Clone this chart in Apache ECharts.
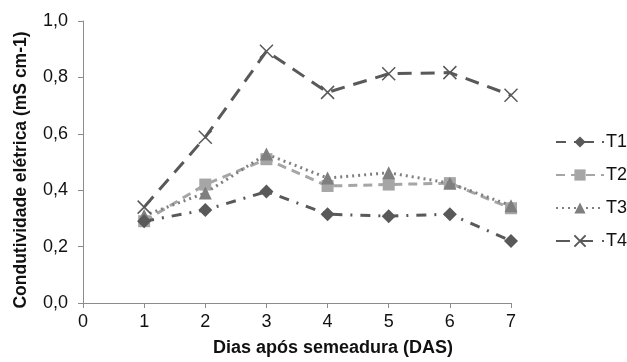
<!DOCTYPE html>
<html>
<head>
<meta charset="UTF-8" />
<script src="https://cdn.jsdelivr.net/npm/echarts@6/dist/echarts.min.js"></script>
<style type="text/css">
    *{
        margin: 0;
        padding: 0;
    }
    #chart{
        width: 627px;
        height: 362px;
        background: #fff;
    }
</style>
</head>
<body>
<div id="chart"></div>
<script type="text/javascript">
    // dias apos semeadura
    var dias = [1, 2, 3, 4, 5, 6, 7];
    var t1 = [0.29, 0.33, 0.395, 0.315, 0.308, 0.315, 0.22];
    var t2 = [0.29, 0.42, 0.51, 0.415, 0.42, 0.425, 0.336];
    var t3 = [0.31, 0.39, 0.528, 0.443, 0.462, 0.425, 0.345];
    var t4 = [0.34, 0.588, 0.893, 0.747, 0.813, 0.817, 0.737];
    var nomes = ['T1', 'T2', 'T3', 'T4'];

    function pares(vals) {
        var out = [];
        for (var i = 0; i < dias.length; i++) {
            out.push([dias[i], vals[i]]);
        }
        return out;
    }

    var xis = 'path://M0,0L10,10M10,0L0,10';
    var fonte = 'Liberation Sans, Arial, sans-serif';

    var myChart = echarts.init(document.getElementById('chart'));
    var option = {
        animation: false,
        textStyle: { fontFamily: fonte },
        grid: { left: 83, right: 116, top: 21, bottom: 52 },
        legend: {
            orient: 'vertical',
            left: 550,
            top: 128,
            itemWidth: 48,
            itemHeight: 14,
            itemGap: 15,
            textStyle: { fontSize: 18, lineHeight: 18, color: '#111', padding: [0, 0, 0, -3] },
            data: nomes
        },
        xAxis: {
            type: 'value',
            min: 0,
            max: 7,
            interval: 1,
            name: 'Dias após semeadura (DAS)',
            nameLocation: 'middle',
            nameGap: 36,
            nameTextStyle: { fontSize: 18, fontWeight: 'bold', color: '#111', padding: [0, 0, 0, 72] },
            axisLine: { lineStyle: { color: '#8c8c8c' } },
            axisTick: { show: true, length: 5, lineStyle: { color: '#8c8c8c' } },
            axisLabel: { fontSize: 18, color: '#111', margin: 10 },
            splitLine: { show: false }
        },
        yAxis: {
            type: 'value',
            min: 0,
            max: 1,
            interval: 0.2,
            name: 'Condutividade elétrica (mS cm-1)',
            nameLocation: 'middle',
            nameGap: 53,
            nameTextStyle: { fontSize: 17.5, fontWeight: 'bold', color: '#111', padding: [0, 16, 0, 0] },
            axisLine: { show: true, lineStyle: { color: '#8c8c8c' } },
            axisTick: { show: true, length: 5, lineStyle: { color: '#8c8c8c' } },
            axisLabel: {
                fontSize: 18,
                color: '#111',
                margin: 15,
                formatter: function (v) { return v.toFixed(1).replace('.', ','); }
            },
            splitLine: { show: false }
        },
        series: [
            {
                name: 'T1',
                type: 'line',
                data: pares(t1),
                symbol: 'diamond',
                symbolSize: 14,
                itemStyle: { color: '#595959' },
                lineStyle: { color: '#595959', width: 3, type: [10, 8, 2, 8] },
                z: 4
            },
            {
                name: 'T2',
                type: 'line',
                data: pares(t2),
                symbol: 'rect',
                symbolSize: 12,
                itemStyle: { color: '#a6a6a6' },
                lineStyle: { color: '#a6a6a6', width: 3, type: [9, 6] },
                z: 2
            },
            {
                name: 'T3',
                type: 'line',
                data: pares(t3),
                symbol: 'triangle',
                symbolSize: 13,
                itemStyle: { color: '#7f7f7f' },
                lineStyle: { color: '#7f7f7f', width: 3, type: [2, 4] },
                z: 3
            },
            {
                name: 'T4',
                type: 'line',
                data: pares(t4),
                symbol: xis,
                symbolSize: 13,
                itemStyle: { color: 'transparent', borderColor: '#595959', borderWidth: 1.5 },
                lineStyle: { color: '#595959', width: 3, type: [14, 9] },
                z: 5
            }
        ]
    };
    myChart.setOption(option);
</script>
</body>
</html>
